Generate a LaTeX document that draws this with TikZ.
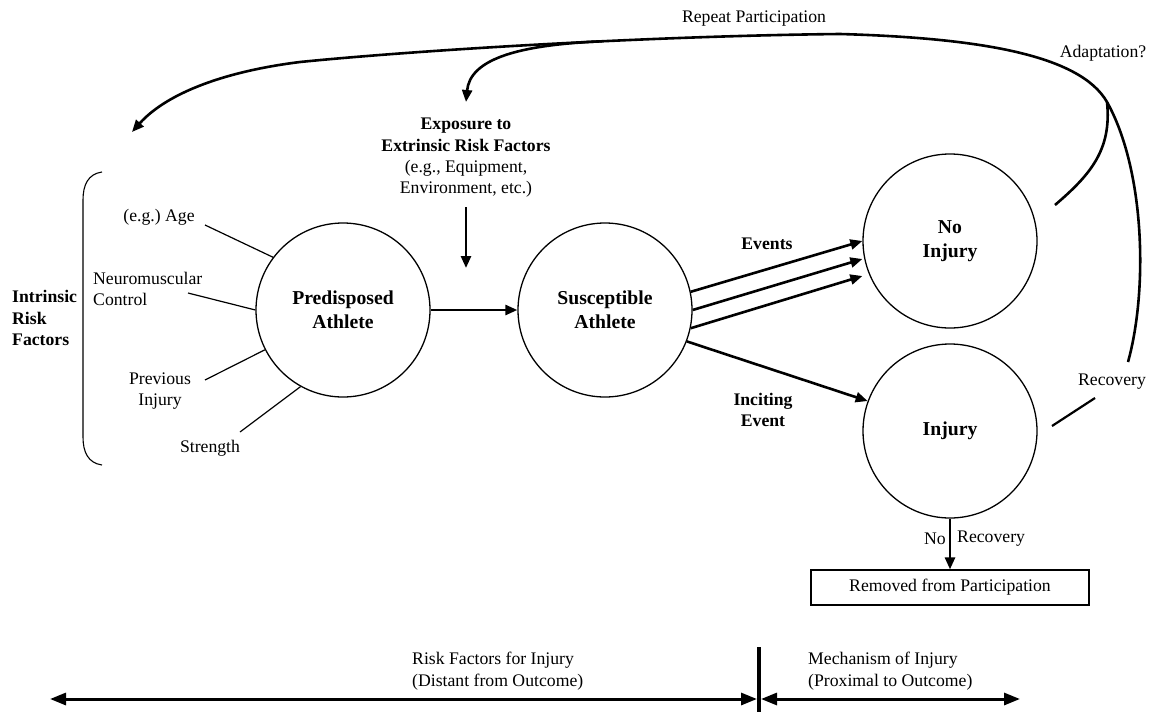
\documentclass[tikz,border=0pt]{standalone}
\usepackage{fontspec}
\setmainfont{Liberation Serif}
\usetikzlibrary{arrows.meta,calc}
\frenchspacing
\begin{document}
\begin{tikzpicture}[x=1pt,y=-1pt,
  txt/.style={font=\fontsize{17.7}{21.5}\selectfont, inner sep=0pt, align=center},
  btxt/.style={font=\fontsize{17.7}{21.8}\selectfont\bfseries, inner sep=0pt, align=center},
  circ/.style={draw, circle, line width=1.3pt, minimum size=174pt, inner sep=0pt,
    font=\fontsize{19.7}{24.5}\selectfont\bfseries, align=center},
  factorline/.style={line width=1.2pt},
  arrowline/.style={line width=2.6pt, -{Triangle[length=12pt,width=10pt]}},
  plainthick/.style={line width=2.6pt},
  axisarrow/.style={line width=3pt, {Triangle[length=16pt,width=12pt]}-{Triangle[length=16pt,width=12pt]}}
]
\useasboundingbox (0,0) rectangle (1153,712);

% circles
\node[circ] (pa) at (343,310) {Predisposed\\Athlete};
\node[circ] (sa) at (605,310) {Susceptible\\Athlete};
\node[circ] (ni) at (950,241) {No\\Injury};
\node[circ] (inj) at (950,431) {Injury};
\node[draw, line width=1.2pt, minimum width=278pt, minimum height=35pt, txt] (rem) at (950,587.5) {Removed from Participation};

% intrinsic factors
\node[btxt, align=left, anchor=west] (irf) at (12,318) {Intrinsic\\Risk\\Factors};
\node[txt] (age) at (159,217) {(e.g.) Age};
\node[txt, align=left, anchor=west] (neu) at (93,289) {Neuromuscular\\Control};
\node[txt] (prev) at (160,391) {Previous\\Injury};
\node[txt] (str) at (210,448) {Strength};

\coordinate (fa) at (205,225);
\coordinate (fn) at (188,293);
\coordinate (fp) at (205,380);
\coordinate (fs) at (240,432);
\draw[factorline] (fa) -- (pa.143);
\draw[factorline] (fn) -- (pa.180);
\draw[factorline] (fp) -- (pa.207);
\draw[factorline] (fs) -- (pa.241);

% bracket
\coordinate (bt) at (102,172);
\coordinate (bb) at (102,465);
\draw[line width=1.1pt] (bt) .. controls (88,174) and (83,185) .. (83,200) -- (83,437) .. controls (83,452) and (88,463) .. (bb);

% extrinsic
\node[txt, font=\fontsize{17.7}{21.3}\selectfont] (ext) at (466,158) {\textbf{Exposure to}\\\textbf{Extrinsic Risk Factors}\\(e.g., Equipment,\\Environment, etc.)};
\coordinate (exA) at (466,207);
\coordinate (exB) at (466,268);
\draw[arrowline] (exA) -- (exB);

\draw[arrowline] (pa.east) -- (sa.west);

% events
\node[btxt] (ev) at (767,244) {Events};
\node[btxt] (inc) at (763,410) {Inciting\\Event};
\coordinate (e1) at (ni.west);
\coordinate (e2) at ($(ni.west)+(0,18)$);
\coordinate (e3) at ($(ni.west)+(0,35)$);
\draw[arrowline] (sa.12) -- (e1);
\draw[arrowline] (sa.0) -- (e2);
\draw[arrowline] (sa.-12) -- (e3);
\draw[arrowline] (sa.-21) -- (inj.160);

% no recovery
\draw[arrowline] (inj.south) -- (rem.north);
\node[txt, anchor=east] (norec1) at (946,539) {No};
\node[txt, anchor=west] (norec2) at (957,539) {Recovery};

% recovery / adaptation / repeat participation
\node[txt] (rec) at (1112,382) {Recovery};
\node[txt] (adp) at (1103,53) {Adaptation?};
\node[txt] (rep) at (754,19) {Repeat Participation};

\coordinate (r1) at (1052,426);
\coordinate (r2) at (1095,398);
\draw[line width=2.2pt] (r1) -- (r2);

\coordinate (rc) at (1128,362);
\coordinate (mrg) at (1107,102);
\coordinate (lt) at (132,132);
\coordinate (br) at (602,41.3);
\coordinate (exTip) at (466,102);
\coordinate (ad) at (1055,205);

\draw[arrowline] (rc) .. controls (1148,290) and (1145,170) .. (mrg)
  .. controls (1080,55) and (980,38) .. (840,34)
  .. controls (650,36) and (420,50) .. (300,62)
  .. controls (220,72) and (165,95) .. (lt);
\draw[arrowline] (br) .. controls (515,45) and (470,60) .. (exTip);
\draw[plainthick] (ad) .. controls (1090,175) and (1112,150) .. (mrg);

% bottom axis
\coordinate (bl) at (50,699);
\coordinate (bm1) at (757,699);
\coordinate (bm2) at (761,699);
\coordinate (bR) at (1020,699);
\coordinate (barT) at (759,647);
\coordinate (barB) at (759,712);
\draw[axisarrow] (bl) -- (bm1);
\draw[axisarrow] (bm2) -- (bR);
\draw[line width=4pt] (barT) -- (barB);
\node[txt, align=left, anchor=west] (rf) at (412,671) {Risk Factors for Injury\\(Distant from Outcome)};
\node[txt, align=left, anchor=west] (mi) at (808,671) {Mechanism of Injury\\(Proximal to Outcome)};
\end{tikzpicture}
\end{document}
